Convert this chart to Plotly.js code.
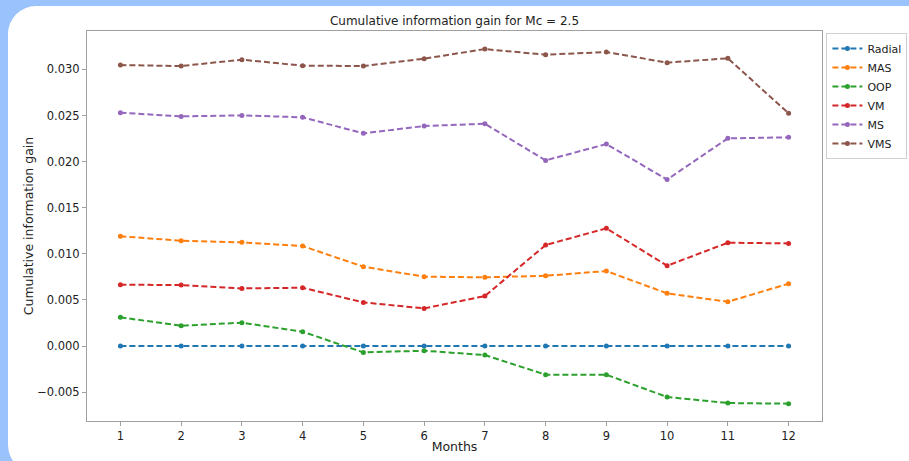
<!DOCTYPE html>
<html>
<head>
<meta charset="utf-8">
<script src="https://cdn.plot.ly/plotly-3.0.1.min.js"></script>
<style>
  html, body { margin: 0; padding: 0; width: 909px; height: 461px; overflow: hidden; background: #9ac3fd; }
  #card { position: absolute; left: 8px; top: 6px; width: 960px; height: 467px; background: #ffffff; border-radius: 28px; }
  #chart { position: absolute; left: 0; top: 0; width: 909px; height: 461px; }
</style>
</head>
<body>
<div id="card"></div>
<div id="chart"></div>
<script>
const months = [1, 2, 3, 4, 5, 6, 7, 8, 9, 10, 11, 12];
const seriesNames = ["Radial", "MAS", "OOP", "VM", "MS", "VMS"];
const radial = [0, 0, 0, 0, 0, 0, 0, 0, 0, 0, 0, 0];
const mas = [0.0119, 0.01142, 0.01124, 0.01084, 0.0086, 0.00752, 0.00745, 0.00762, 0.00813, 0.00571, 0.0048, 0.00676];
const oop = [0.00311, 0.0022, 0.00253, 0.00155, -0.00069, -0.00051, -0.00098, -0.00311, -0.00311, -0.00553, -0.00618, -0.00625];
const vm = [0.00665, 0.00661, 0.00625, 0.00632, 0.00473, 0.00408, 0.00542, 0.01095, 0.01276, 0.00871, 0.0112, 0.01113];
const ms = [0.0253, 0.0249, 0.02501, 0.0248, 0.02306, 0.02386, 0.0241, 0.02013, 0.0219, 0.01805, 0.02252, 0.02263];
const vms = [0.03047, 0.03036, 0.03105, 0.0304, 0.03036, 0.03116, 0.0322, 0.03159, 0.03188, 0.03073, 0.0312, 0.02523];
const colors = ["#1f77b4", "#ff7f0e", "#2ca02c", "#d62728", "#9467bd", "#8c564b"];
const allValues = [radial, mas, oop, vm, ms, vms];

const traces = allValues.map((vals, i) => ({
  x: months,
  y: vals,
  name: seriesNames[i],
  type: "scatter",
  mode: "lines+markers",
  line: { color: colors[i], width: 2, dash: "6px,3px" },
  marker: { color: colors[i], size: 5 }
}));

const font = "DejaVu Sans, sans-serif";
const layout = {
  width: 909,
  height: 461,
  margin: { l: 87, r: 87, t: 31, b: 40, autoexpand: false },
  paper_bgcolor: "rgba(0,0,0,0)",
  plot_bgcolor: "#ffffff",
  font: { family: font, size: 11.5, color: "#222" },
  title: {
    text: "Cumulative information gain for Mc = 2.5",
    font: { family: font, size: 12, color: "#222" },
    x: 0.5, xref: "paper", xanchor: "center",
    y: 1, yref: "paper", yanchor: "bottom",
    pad: { b: 6 }
  },
  xaxis: {
    range: [0.45, 12.55],
    tickvals: months,
    ticktext: months.map(String),
    showgrid: false, zeroline: false,
    showline: true, linecolor: "#a0a0a0", linewidth: 1, mirror: true,
    ticks: "outside", ticklen: 4, tickcolor: "#a0a0a0",
    tickfont: { family: font, size: 11.5, color: "#222" },
    title: { text: "Months", font: { family: font, size: 12.5, color: "#222" }, standoff: 0 }
  },
  yaxis: {
    range: [-0.00813, 0.03416],
    tickvals: [-0.005, 0, 0.005, 0.01, 0.015, 0.02, 0.025, 0.03],
    tickformat: ".3f",
    showgrid: false, zeroline: false,
    showline: true, linecolor: "#a0a0a0", linewidth: 1, mirror: true,
    ticks: "outside", ticklen: 4, tickcolor: "#a0a0a0",
    tickfont: { family: font, size: 11.5, color: "#222" },
    title: { text: "Cumulative information gain", font: { family: font, size: 12.5, color: "#222" }, standoff: 0 }
  },
  showlegend: true,
  legend: {
    x: 1.006, xanchor: "left", y: 0.995, yanchor: "top",
    bgcolor: "#ffffff", bordercolor: "#d0d0d0", borderwidth: 1,
    font: { family: font, size: 11, color: "#222" },
    itemwidth: 30,
    tracegroupgap: 0
  }
};

Plotly.newPlot("chart", traces, layout, { displayModeBar: false, staticPlot: true });
</script>
</body>
</html>
